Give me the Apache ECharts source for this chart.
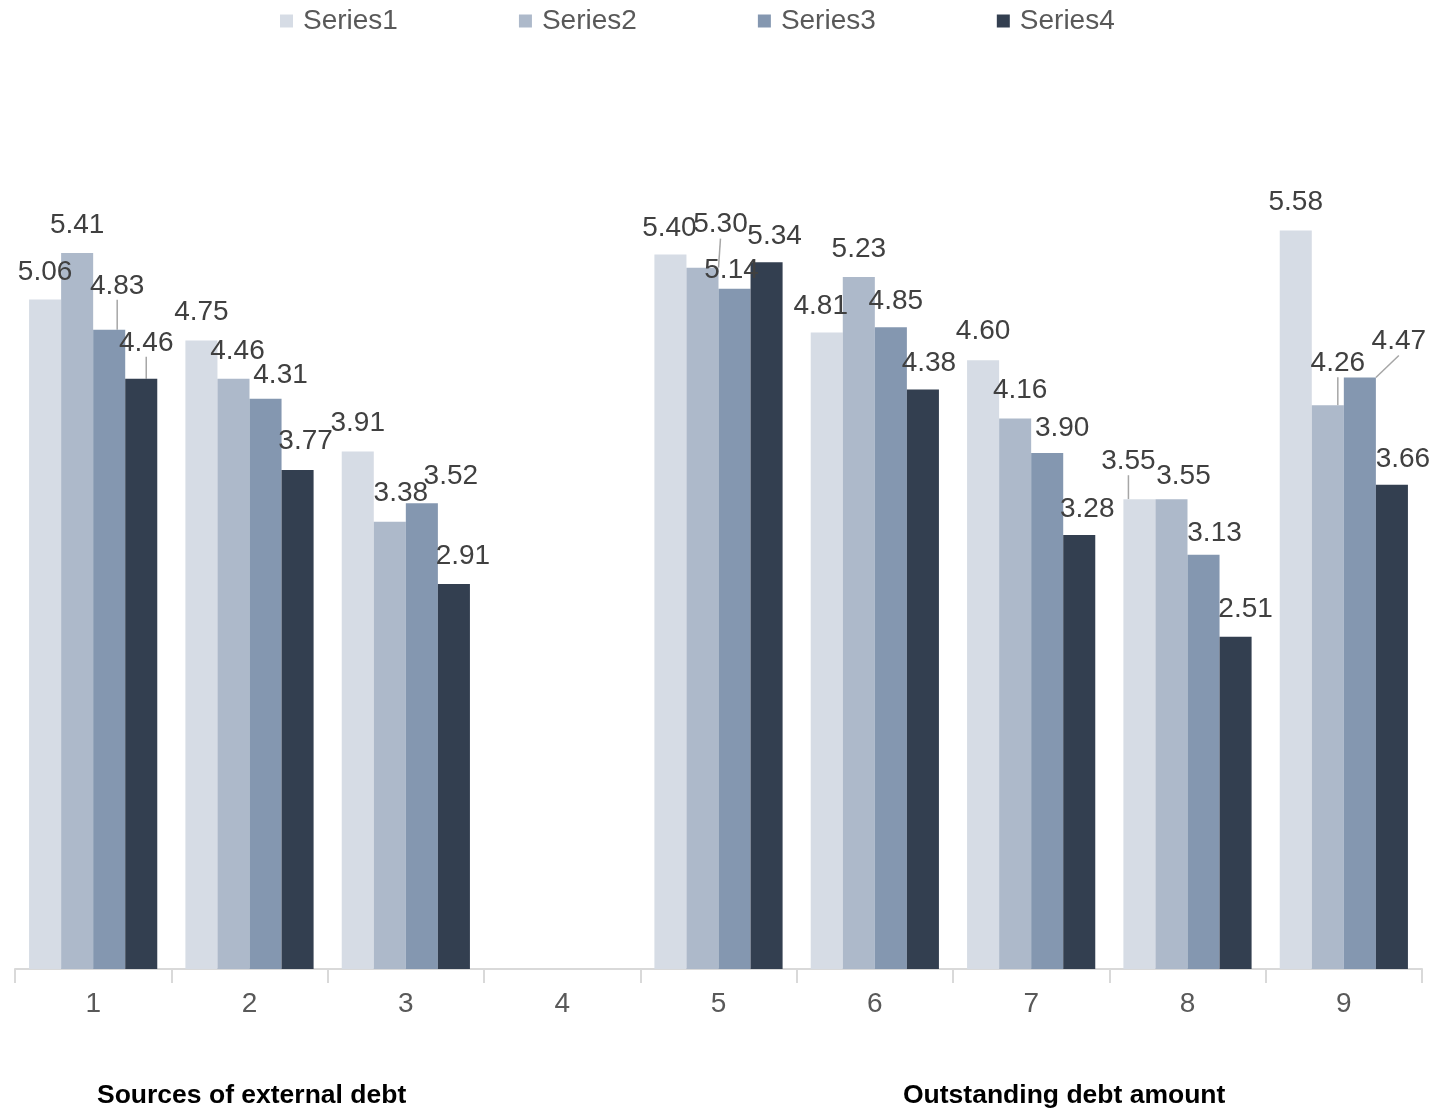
<!DOCTYPE html>
<html>
<head>
<meta charset="utf-8">
<script src="https://cdn.jsdelivr.net/npm/echarts@6/dist/echarts.min.js"></script>
<style>
html,body{margin:0;padding:0;background:#fff;}
#main{width:1434px;height:1113px;}
</style>
</head>
<body>
<div id="main"></div>
<script>
const categories = ['1','2','3','4','5','6','7','8','9'];
const seriesNames = ['Series1','Series2','Series3','Series4'];
const series1 = [5.06, 4.75, 3.91, null, 5.40, 4.81, 4.60, 3.55, 5.58];
const series2 = [5.41, 4.46, 3.38, null, 5.30, 5.23, 4.16, 3.55, 4.26];
const series3 = [4.83, 4.31, 3.52, null, 5.14, 4.85, 3.90, 3.13, 4.47];
const series4 = [4.46, 3.77, 2.91, null, 5.34, 4.38, 3.28, 2.51, 3.66];
const groupLabels = ['Sources of external debt', 'Outstanding debt amount'];

const colors = ['#D6DCE5', '#ADB9CA', '#8497B0', '#333F50'];

// label offsets (dx, dy) per series per category, mimicking manual label placement
const labelOffsets = [
  [[0,0],[0,-1],[0,-1],null,[-1,1],[-6,1],[0,-2],[-11,-11],[0,-1]],
  [[0,-1],[4,-1],[11,-1],null,[18,-16],[0,-1],[5,-1],[12,4],[10,-15]],
  [[8,-17],[15,4],[29,0],null,[-3,8],[5,1],[15,2],[11,5],[39,-9]],
  [[5,-9],[8,-2],[9,-1],null,[8,1],[6,1],[8,1],[10,-1],[11,2]]
];
const leaderLines = [
  [false,false,false,false,false,false,false,true,false],
  [false,false,false,false,true,false,false,false,true],
  [true,false,false,false,false,false,false,false,true],
  [true,false,false,false,false,false,false,false,false]
];

const allData = [series1, series2, series3, series4];
const FONT = '"Liberation Sans", Arial, sans-serif';

const chart = echarts.init(document.getElementById('main'));
const series = allData.map((arr, si) => ({
  name: seriesNames[si],
  type: 'bar',
  barGap: '0%',
  barCategoryGap: '18%',
  itemStyle: { color: colors[si] },
  data: arr.map((v, ci) => ({
    value: v === null ? '-' : v,
    labelLine: { show: leaderLines[si][ci], lineStyle: { color: '#A6A6A6', width: 1.5 }, length2: 0 }
  })),
  label: {
    show: true,
    position: 'top',
    distance: 13,
    fontFamily: FONT,
    fontSize: 28,
    color: '#404040',
    formatter: p => (typeof p.value === 'number' ? p.value.toFixed(2) : '')
  },
  labelLayout: function (params) {
    const off = labelOffsets[si][params.dataIndex];
    if (!off) return {};
    return { dx: off[0], dy: off[1] };
  }
}));

chart.setOption({
  animation: false,
  color: colors,
  legend: {
    top: 7,
    left: 280,
    padding: 0,
    icon: 'rect',
    itemWidth: 13,
    itemHeight: 13,
    itemGap: 121,
    textStyle: { fontFamily: FONT, fontSize: 28, color: '#595959', padding: [0, 0, 0, 5] },
    data: seriesNames
  },
  grid: { left: 15, right: 12, top: 175, bottom: 144, containLabel: false },
  xAxis: {
    type: 'category',
    data: categories,
    boundaryGap: true,
    axisLine: { lineStyle: { color: '#D9D9D9', width: 2 } },
    axisTick: { show: true, length: 14, lineStyle: { color: '#D9D9D9', width: 2 } },
    axisLabel: { fontFamily: FONT, fontSize: 28, color: '#595959', margin: 21 }
  },
  yAxis: {
    type: 'value',
    min: 0,
    max: 6,
    show: false,
    splitLine: { show: false }
  },
  graphic: [
    { type: 'text', left: 97, top: 1082, style: { text: groupLabels[0], fontFamily: FONT, fontSize: 26.5, fontWeight: 'bold', fill: '#000' } },
    { type: 'text', left: 903, top: 1082, style: { text: groupLabels[1], fontFamily: FONT, fontSize: 26.5, fontWeight: 'bold', fill: '#000' } }
  ],
  series: series
});
</script>
</body>
</html>
